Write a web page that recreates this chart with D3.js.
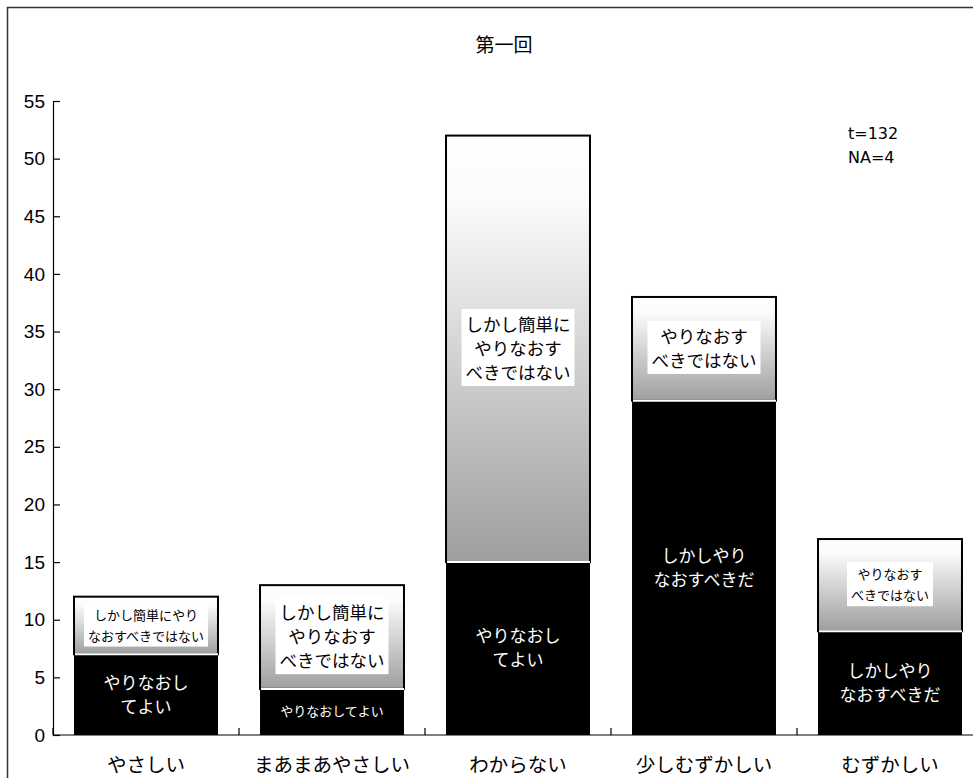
<!DOCTYPE html>
<html lang="ja">
<head>
<meta charset="UTF-8">
<title>第一回</title>
<style>
  body { margin: 0; background: #fff; }
  svg { display: block; }
  .jp { font-family: "Noto Sans CJK JP", sans-serif; }
</style>
</head>
<body>
<script src="https://cdn.jsdelivr.net/npm/d3@7"></script>
<script>
// data
const categories = ["やさしい", "まあまあやさしい", "わからない", "少しむずかしい", "むずかしい"];
const lowerValues = [7, 4, 15, 29, 9];
const upperValues = [5, 9, 37, 9, 8];
const lowerLabels = [
  ["やりなおし", "てよい"],
  ["やりなおしてよい"],
  ["やりなおし", "てよい"],
  ["しかしやり", "なおすべきだ"],
  ["しかしやり", "なおすべきだ"]
];
const upperLabels = [
  ["しかし簡単にやり", "なおすべきではない"],
  ["しかし簡単に", "やりなおす", "べきではない"],
  ["しかし簡単に", "やりなおす", "べきではない"],
  ["やりなおす", "べきではない"],
  ["やりなおす", "べきではない"]
];
const yTicks = [0, 5, 10, 15, 20, 25, 30, 35, 40, 45, 50, 55];
const chartTitle = "第一回";
const noteLines = ["t=132", "NA=4"];

// which labels use the small font
const smallLower = [false, true, false, false, false];
const smallUpper = [true, false, false, false, true];

const W = 973, H = 778;
const svg = d3.select("body").append("svg")
    .attr("width", W)
    .attr("height", H);

// outer frame
svg.append("rect")
    .attr("x", 7.5).attr("y", 7.5)
    .attr("width", 1000).attr("height", 820)
    .attr("fill", "none")
    .attr("stroke", "#333")
    .attr("stroke-width", 1.5);

const x = d3.scaleBand()
    .domain(categories)
    .range([53, 983])
    .paddingInner(0.226)
    .paddingOuter(0.113);

const y = d3.scaleLinear()
    .domain([0, 55])
    .range([735, 101]);

// gradient for upper segments
const grad = svg.append("defs").append("linearGradient")
    .attr("id", "topGrad")
    .attr("x1", 0).attr("y1", 0).attr("x2", 0).attr("y2", 1);
grad.append("stop").attr("offset", 0).attr("stop-color", "#ffffff");
grad.append("stop").attr("offset", 0.15).attr("stop-color", "#fbfbfb");
grad.append("stop").attr("offset", 1).attr("stop-color", "#9e9e9e");

// y axis
const yAxis = svg.append("g")
    .attr("transform", "translate(53,0)")
    .call(d3.axisLeft(y).tickValues(yTicks).tickSize(-7).tickPadding(8));
yAxis.select(".domain").attr("stroke", "#000").attr("stroke-width", 1.2);
yAxis.selectAll(".tick line").attr("stroke", "#000").attr("stroke-width", 1.2);
yAxis.selectAll(".tick text")
    .attr("fill", "#000")
    .style("font-family", "'Liberation Sans', Arial, sans-serif")
    .style("font-size", "19px");

// x axis line + boundary ticks
const step = x.step();
const bounds = d3.range(categories.length + 1).map(i => x.range()[0] + i * step);
svg.append("line")
    .attr("x1", 53).attr("x2", 983)
    .attr("y1", y(0)).attr("y2", y(0))
    .attr("stroke", "#000").attr("stroke-width", 1.2);
svg.selectAll(".xtick").data(bounds).enter().append("line")
    .attr("class", "xtick")
    .attr("x1", d => d).attr("x2", d => d)
    .attr("y1", y(0)).attr("y2", y(0) - 7)
    .attr("stroke", "#000").attr("stroke-width", 1.2);

svg.selectAll(".cat").data(categories).enter().append("text")
    .attr("class", "cat jp")
    .attr("x", d => x(d) + x.bandwidth() / 2)
    .attr("y", 772)
    .attr("text-anchor", "middle")
    .style("font-size", "19.5px")
    .text(d => d);

const bars = categories.map((c, i) => ({
  cat: c, i: i,
  lo: lowerValues[i],
  hi: lowerValues[i] + upperValues[i]
}));

// lower (black) segments
svg.selectAll(".lower").data(bars).enter().append("rect")
    .attr("class", "lower")
    .attr("x", d => x(d.cat))
    .attr("width", x.bandwidth())
    .attr("y", d => y(d.lo))
    .attr("height", d => y(0) - y(d.lo))
    .attr("fill", "#000");

// upper (gradient) segments
svg.selectAll(".upper").data(bars).enter().append("rect")
    .attr("class", "upper")
    .attr("x", d => x(d.cat))
    .attr("width", x.bandwidth())
    .attr("y", d => y(d.hi))
    .attr("height", d => y(d.lo) - y(d.hi))
    .attr("fill", "url(#topGrad)")
    .attr("stroke", "#000")
    .attr("stroke-width", 2);

// white separator between segments
svg.selectAll(".sep").data(bars).enter().append("line")
    .attr("x1", d => x(d.cat) + 1)
    .attr("x2", d => x(d.cat) + x.bandwidth())
    .attr("y1", d => y(d.lo))
    .attr("y2", d => y(d.lo))
    .attr("stroke", "#fff")
    .attr("stroke-width", 2);

// labels inside upper segments, on white boxes
bars.forEach(d => {
  const small = smallUpper[d.i];
  const fs = small ? 13 : 17.5;
  const lh = small ? 21 : 24;
  const lines = upperLabels[d.i];
  const cx = x(d.cat) + x.bandwidth() / 2;
  const cy = (y(d.lo) + y(d.hi)) / 2;
  const g = svg.append("g");
  const t = g.append("text")
      .attr("class", "jp")
      .attr("text-anchor", "middle")
      .style("font-size", fs + "px")
      .attr("fill", "#000");
  lines.forEach((l, k) => {
    t.append("tspan")
      .attr("x", cx)
      .attr("y", cy + (k - (lines.length - 1) / 2) * lh)
      .attr("dy", "0.35em")
      .text(l);
  });
  const bb = t.node().getBBox();
  g.insert("rect", "text")
      .attr("x", bb.x - 4)
      .attr("y", bb.y - 2)
      .attr("width", bb.width + 8)
      .attr("height", bb.height + 4)
      .attr("fill", "#fff");
});

// labels inside lower segments
bars.forEach(d => {
  const small = smallLower[d.i];
  const fs = small ? 13 : 17;
  const lh = 24;
  const lines = lowerLabels[d.i];
  const cx = x(d.cat) + x.bandwidth() / 2;
  const cy = (y(0) + y(d.lo)) / 2;
  const t = svg.append("text")
      .attr("class", "jp")
      .attr("text-anchor", "middle")
      .style("font-size", fs + "px")
      .attr("fill", "#fff");
  lines.forEach((l, k) => {
    t.append("tspan")
      .attr("x", cx)
      .attr("y", cy + (k - (lines.length - 1) / 2) * lh)
      .attr("dy", "0.35em")
      .text(l);
  });
});

// title
svg.append("text")
    .attr("class", "jp")
    .attr("x", 504)
    .attr("y", 52)
    .attr("text-anchor", "middle")
    .style("font-size", "19px")
    .text(chartTitle);

// note
svg.selectAll(".note").data(noteLines).enter().append("text")
    .attr("class", "note")
    .attr("x", 848)
    .attr("y", (d, i) => 139 + i * 24)
    .style("font-family", "'DejaVu Sans', sans-serif")
    .style("font-size", "16px")
    .text(d => d);
</script>
</body>
</html>
